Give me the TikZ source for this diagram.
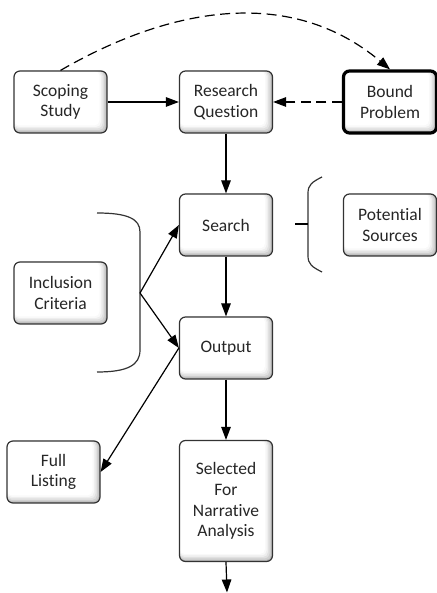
\documentclass[tikz,border=0pt]{standalone}
\usepackage{fontspec}
\setmainfont{Carlito}[Ligatures=NoCommon]
\usetikzlibrary{arrows.meta}
\tikzset{
  box/.style={draw=black!80, line width=1.2pt, rounded corners=6pt,
    minimum width=93pt, minimum height=62pt, align=center, text=black!85,
    font=\fontsize{17.5}{20.7}\selectfont, fill=gray!55,
    path picture={
      \foreach \s/\c in {1.5/38,3/24,4.5/13,6/5,7.5/0}
        \fill[gray!\c, rounded corners=5pt] (path picture bounding box.north west)
          rectangle ([xshift=-\s, yshift=\s]path picture bounding box.south east);
    }},
  thickbox/.style={box, draw=black, line width=3.2pt},
  arr/.style={-{Triangle[length=13pt,width=9.5pt]}, line width=1.2pt},
  dasharr/.style={arr, dash pattern=on 10pt off 5.5pt},
  brace/.style={draw=black!80, line width=1.2pt}
}
\begin{document}
\begin{tikzpicture}[x=1pt,y=1pt]
    \useasboundingbox (0,0) rectangle (436,593);
    % Hàng trên
    \node[box] (scoping) at (60.5,491) {Scoping\\Study};
    \node[box] (research) at (226,491) {Research\\Question};
    \node[thickbox] (bound) at (390,491) {Bound\\Problem};

    % Cột giữa
    \node[box] (search) at (226,368) {Search};
    \node[box] (output) at (226,245) {Output};
    \node[box, minimum height=121pt] (selected) at (226,92) {Selected\\For\\Narrative\\Analysis};

    % Hai bên
    \node[box] (sources) at (390,368) {Potential\\Sources};
    \node[box] (criteria) at (60.5,300) {Inclusion\\Criteria};
    \node[box] (listing) at (53.5,121) {Full\\Listing};

    % Ngoặc
    \draw[brace] (97,380) .. controls (128,380) and (140,374) .. (140,361) -- (140,243)
      .. controls (140,228) and (128,221) .. (97,221);
    \coordinate (crit) at (140,300);
    \draw[brace] (322,416) .. controls (312,411) and (308,408) .. (308,400) -- (308,337)
      .. controls (308,329) and (312,326) .. (322,321);
    \draw[line width=1.8pt] (295,369) -- (308,369);

    % Mũi tên
    \draw[dasharr] (scoping.north) to[out=30,in=140] (bound.north);
    \draw[arr] (scoping) -- (research);
    \draw[dasharr] (bound) -- (research);
    \draw[arr] (research) -- (search);
    \draw[arr] (search) -- (output);
    \draw[arr] (output) -- (selected);
    \draw[arr] (crit) -- (search.west);
    \draw[arr] (crit) -- (output.west);
    \draw[arr] (output.west) -- (listing.east);
    \coordinate (next) at (227,0.5);
    \draw[arr] (selected.south) -- (next);
\end{tikzpicture}
\end{document}
